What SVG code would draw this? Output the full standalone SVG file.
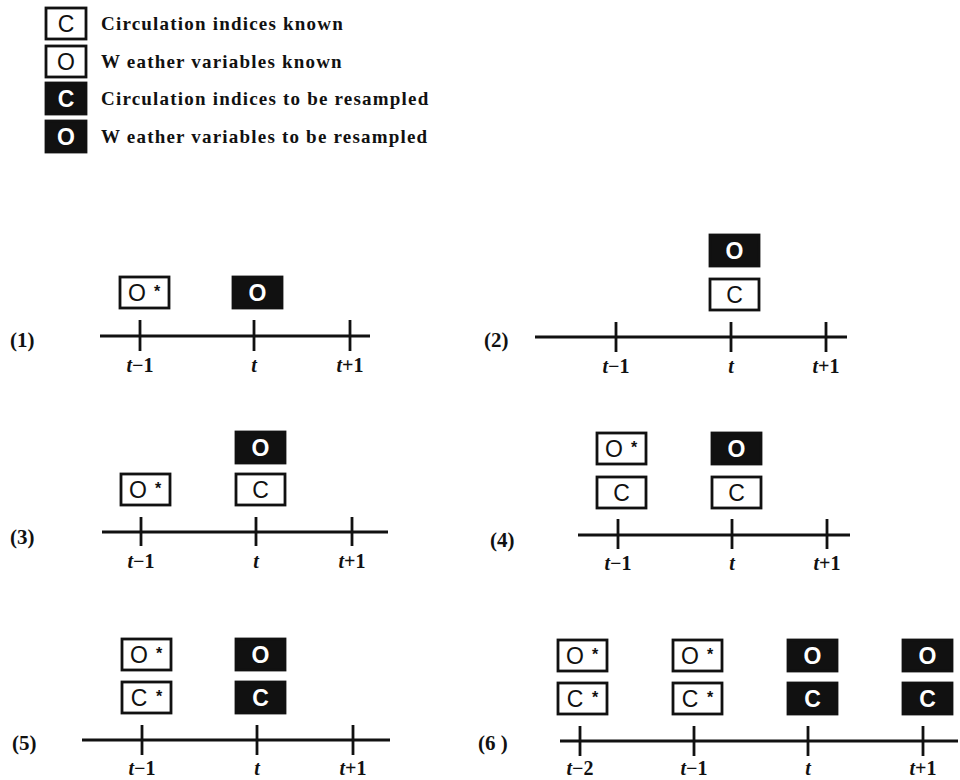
<svg xmlns="http://www.w3.org/2000/svg" width="960" height="780" viewBox="0 0 960 780">
  <style>
    .bg { fill: #ffffff; }
    .box { fill: #ffffff; stroke: #111; stroke-width: 2.8; }
    .dbox { fill: #111; stroke: #111; stroke-width: 2.8; }
    .glyph { font-family: "Liberation Sans", Arial, sans-serif; font-size: 23px; fill: #111; text-anchor: middle; }
    .glyph.w { fill: #fff; font-weight: bold; }
    .star { font-family: "Liberation Sans", Arial, sans-serif; font-size: 16px; fill: #111; font-weight: bold; }
    .legend { font-family: "Liberation Serif", "Times New Roman", serif; font-size: 19px; font-weight: bold; fill: #111; letter-spacing: 1.2px; }
    .panel { font-family: "Liberation Serif", "Times New Roman", serif; font-size: 21px; font-weight: bold; fill: #111; }
    .tick-label { font-family: "Liberation Serif", "Times New Roman", serif; font-size: 20px; font-weight: bold; fill: #111; text-anchor: middle; }
    .tick-label .v { font-style: italic; }
    .axis line { stroke: #111; stroke-width: 3; }
    .axis line.tk { stroke-width: 2.8; }
  </style>
  <defs>
    <rect id="k" class="box" width="40" height="31"/>
    <rect id="kd" class="dbox" width="40" height="31"/>
    <rect id="b" class="box" width="49" height="31"/>
    <rect id="d" class="dbox" width="49" height="31"/>
  </defs>
  <rect class="bg" x="0" y="0" width="960" height="780"/>

  <!-- legend -->
  <g id="legend">
    <g id="legend-c">
      <use href="#k" x="46" y="8"/>
      <text class="glyph" x="66" y="32">C</text>
      <text class="legend" x="101" y="30">Circulation indices known</text>
    </g>
    <g id="legend-o">
      <use href="#k" x="46" y="46"/>
      <text class="glyph" x="66" y="70">O</text>
      <text class="legend" x="101" y="68">W eather variables known</text>
    </g>
    <g id="legend-c-resample">
      <use href="#kd" x="46" y="83"/>
      <text class="glyph w" x="66" y="107">C</text>
      <text class="legend" x="101" y="105">Circulation indices to be resampled</text>
    </g>
    <g id="legend-o-resample">
      <use href="#kd" x="46" y="121"/>
      <text class="glyph w" x="66" y="145">O</text>
      <text class="legend" x="101" y="143">W eather variables to be resampled</text>
    </g>
  </g>

  <!-- panel 1 -->
  <g id="panel-1">
    <text class="panel" x="10" y="347">(1)</text>
    <g class="axis">
      <line x1="100" y1="336" x2="370" y2="336"/>
      <line class="tk" x1="140" y1="320" x2="140" y2="351"/>
      <line class="tk" x1="254" y1="320" x2="254" y2="351"/>
      <line class="tk" x1="350" y1="320" x2="350" y2="351"/>
    </g>
    <text class="tick-label" x="140" y="372"><tspan class="v">t</tspan>−1</text>
    <text class="tick-label" x="254" y="372"><tspan class="v">t</tspan></text>
    <text class="tick-label" x="350" y="372"><tspan class="v">t</tspan>+1</text>
    <g id="p1-o-prev"><use href="#b" x="120" y="277"/><text class="glyph" x="137" y="301">O</text><text class="star" x="154" y="297">*</text></g>
    <g id="p1-o-now"><use href="#d" x="233" y="277"/><text class="glyph w" x="257.5" y="301">O</text></g>
  </g>

  <!-- panel 2 -->
  <g id="panel-2">
    <text class="panel" x="484" y="347">(2)</text>
    <g class="axis">
      <line x1="535" y1="337" x2="847" y2="337"/>
      <line class="tk" x1="616" y1="322" x2="616" y2="352"/>
      <line class="tk" x1="731" y1="322" x2="731" y2="352"/>
      <line class="tk" x1="826" y1="322" x2="826" y2="352"/>
    </g>
    <text class="tick-label" x="616" y="373"><tspan class="v">t</tspan>−1</text>
    <text class="tick-label" x="731" y="373"><tspan class="v">t</tspan></text>
    <text class="tick-label" x="826" y="373"><tspan class="v">t</tspan>+1</text>
    <g id="p2-o-now"><use href="#d" x="710" y="235"/><text class="glyph w" x="734.5" y="259">O</text></g>
    <g id="p2-c-now"><use href="#b" x="710" y="279"/><text class="glyph" x="734.5" y="303">C</text></g>
  </g>

  <!-- panel 3 -->
  <g id="panel-3">
    <text class="panel" x="10" y="544">(3)</text>
    <g class="axis">
      <line x1="102" y1="532" x2="388" y2="532"/>
      <line class="tk" x1="141" y1="517" x2="141" y2="546"/>
      <line class="tk" x1="256" y1="517" x2="256" y2="546"/>
      <line class="tk" x1="352" y1="517" x2="352" y2="546"/>
    </g>
    <text class="tick-label" x="141" y="568"><tspan class="v">t</tspan>−1</text>
    <text class="tick-label" x="256" y="568"><tspan class="v">t</tspan></text>
    <text class="tick-label" x="352" y="568"><tspan class="v">t</tspan>+1</text>
    <g id="p3-o-prev"><use href="#b" x="121" y="474"/><text class="glyph" x="138" y="498">O</text><text class="star" x="155" y="494">*</text></g>
    <g id="p3-o-now"><use href="#d" x="236" y="432"/><text class="glyph w" x="260.5" y="456">O</text></g>
    <g id="p3-c-now"><use href="#b" x="236" y="474"/><text class="glyph" x="260.5" y="498">C</text></g>
  </g>

  <!-- panel 4 -->
  <g id="panel-4">
    <text class="panel" x="490" y="547">(4)</text>
    <g class="axis">
      <line x1="578" y1="535" x2="850" y2="535"/>
      <line class="tk" x1="618" y1="519" x2="618" y2="549"/>
      <line class="tk" x1="732" y1="519" x2="732" y2="549"/>
      <line class="tk" x1="827" y1="519" x2="827" y2="549"/>
    </g>
    <text class="tick-label" x="618" y="570"><tspan class="v">t</tspan>−1</text>
    <text class="tick-label" x="732" y="570"><tspan class="v">t</tspan></text>
    <text class="tick-label" x="827" y="570"><tspan class="v">t</tspan>+1</text>
    <g id="p4-o-prev"><use href="#b" x="597" y="433"/><text class="glyph" x="614" y="457">O</text><text class="star" x="631" y="453">*</text></g>
    <g id="p4-c-prev"><use href="#b" x="597" y="477"/><text class="glyph" x="621.5" y="501">C</text></g>
    <g id="p4-o-now"><use href="#d" x="712" y="433"/><text class="glyph w" x="736.5" y="457">O</text></g>
    <g id="p4-c-now"><use href="#b" x="712" y="477"/><text class="glyph" x="736.5" y="501">C</text></g>
  </g>

  <!-- panel 5 -->
  <g id="panel-5">
    <text class="panel" x="12" y="750">(5)</text>
    <g class="axis">
      <line x1="82" y1="740" x2="390" y2="740"/>
      <line class="tk" x1="142" y1="725" x2="142" y2="755"/>
      <line class="tk" x1="257" y1="725" x2="257" y2="755"/>
      <line class="tk" x1="353" y1="725" x2="353" y2="755"/>
    </g>
    <text class="tick-label" x="142" y="775"><tspan class="v">t</tspan>−1</text>
    <text class="tick-label" x="257" y="775"><tspan class="v">t</tspan></text>
    <text class="tick-label" x="353" y="775"><tspan class="v">t</tspan>+1</text>
    <g id="p5-o-prev"><use href="#b" x="122" y="639"/><text class="glyph" x="139" y="663">O</text><text class="star" x="156" y="659">*</text></g>
    <g id="p5-c-prev"><use href="#b" x="122" y="682"/><text class="glyph" x="139" y="706">C</text><text class="star" x="156" y="702">*</text></g>
    <g id="p5-o-now"><use href="#d" x="236" y="639"/><text class="glyph w" x="260.5" y="663">O</text></g>
    <g id="p5-c-now"><use href="#d" x="236" y="682"/><text class="glyph w" x="260.5" y="706">C</text></g>
  </g>

  <!-- panel 6 -->
  <g id="panel-6">
    <text class="panel" x="478" y="750">(6 )</text>
    <g class="axis">
      <line x1="560" y1="741" x2="958" y2="741"/>
      <line class="tk" x1="580" y1="726" x2="580" y2="756"/>
      <line class="tk" x1="694" y1="726" x2="694" y2="756"/>
      <line class="tk" x1="808" y1="726" x2="808" y2="756"/>
      <line class="tk" x1="923" y1="726" x2="923" y2="756"/>
    </g>
    <text class="tick-label" x="580" y="775"><tspan class="v">t</tspan>−2</text>
    <text class="tick-label" x="694" y="775"><tspan class="v">t</tspan>−1</text>
    <text class="tick-label" x="808" y="775"><tspan class="v">t</tspan></text>
    <text class="tick-label" x="923" y="775"><tspan class="v">t</tspan>+1</text>
    <g id="p6-o-2"><use href="#b" x="558" y="640"/><text class="glyph" x="575" y="664">O</text><text class="star" x="592" y="660">*</text></g>
    <g id="p6-c-2"><use href="#b" x="558" y="683"/><text class="glyph" x="575" y="707">C</text><text class="star" x="592" y="703">*</text></g>
    <g id="p6-o-1"><use href="#b" x="673" y="640"/><text class="glyph" x="690" y="664">O</text><text class="star" x="707" y="660">*</text></g>
    <g id="p6-c-1"><use href="#b" x="673" y="683"/><text class="glyph" x="690" y="707">C</text><text class="star" x="707" y="703">*</text></g>
    <g id="p6-o-now"><use href="#d" x="788" y="640"/><text class="glyph w" x="812.5" y="664">O</text></g>
    <g id="p6-c-now"><use href="#d" x="788" y="683"/><text class="glyph w" x="812.5" y="707">C</text></g>
    <g id="p6-o-next"><use href="#d" x="903" y="640"/><text class="glyph w" x="927.5" y="664">O</text></g>
    <g id="p6-c-next"><use href="#d" x="903" y="683"/><text class="glyph w" x="927.5" y="707">C</text></g>
  </g>
</svg>
